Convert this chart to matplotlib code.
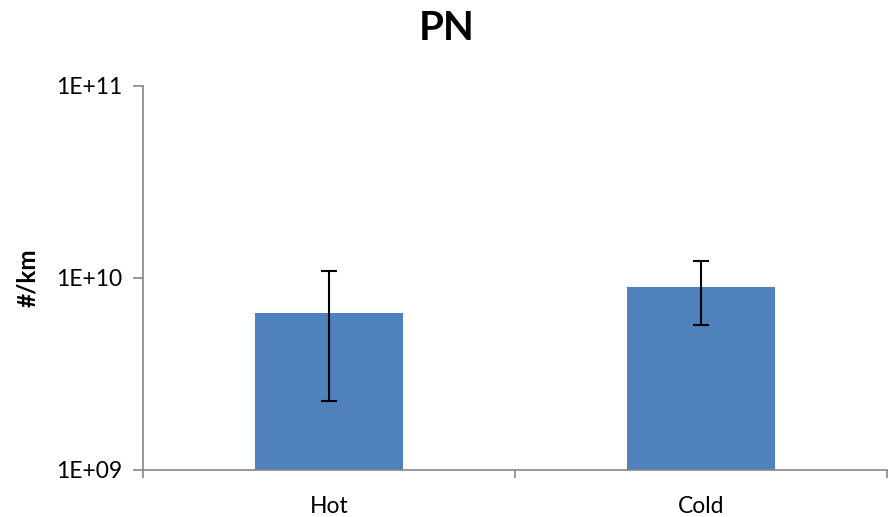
import matplotlib
matplotlib.use("Agg")
import matplotlib.pyplot as plt
import numpy as np

categories = ["Hot", "Cold"]
pn_values = [6.6e9, 8.95e9]
pn_errors = [4.3e9, 3.25e9]
y_ticks = [1e9, 1e10, 1e11]
y_tick_labels = ["1E+09", "1E+10", "1E+11"]

plt.rcParams["font.family"] = ["Lato", "DejaVu Sans"]

fig = plt.figure(figsize=(8.88, 5.17), dpi=100)
ax = fig.add_axes([143 / 888, 1 - 470 / 517, 744 / 888, 384 / 517])

x = np.arange(len(categories))
ax.bar(x, pn_values, width=0.4, color="#4F81BD", zorder=2)
ax.errorbar(x, pn_values, yerr=pn_errors, fmt="none", ecolor="black",
            elinewidth=1.5, capsize=6, capthick=1.5, zorder=3)

ax.set_yscale("log")
ax.set_ylim(1e9, 1e11)
ax.set_xlim(-0.5, len(categories) - 0.5)
ax.set_yticks(y_ticks)
ax.set_yticklabels(y_tick_labels)
ax.yaxis.set_minor_locator(matplotlib.ticker.NullLocator())

# category labels centred on bars, tick marks at category boundaries
ax.set_xticks(x)
ax.set_xticklabels(categories)
ax.tick_params(axis="x", length=0, pad=19, labelsize=16.5)
ax.set_xticks(np.arange(-0.5, len(categories)), minor=True)
ax.tick_params(axis="x", which="minor", length=6, width=1.2, color="#868686")
ax.tick_params(axis="y", length=7, width=1.2, color="#868686", labelsize=16.5, pad=8)

for side in ("top", "right"):
    ax.spines[side].set_visible(False)
for side in ("left", "bottom"):
    ax.spines[side].set_color("#868686")
    ax.spines[side].set_linewidth(1.2)

ax.set_ylabel("#/km", fontsize=17.5, fontweight="bold", labelpad=12)
fig.text(447 / 888, 1 - 28 / 517, "PN", ha="center", va="center",
         fontsize=29, fontweight="bold")

fig.savefig("out.png", dpi=100)
